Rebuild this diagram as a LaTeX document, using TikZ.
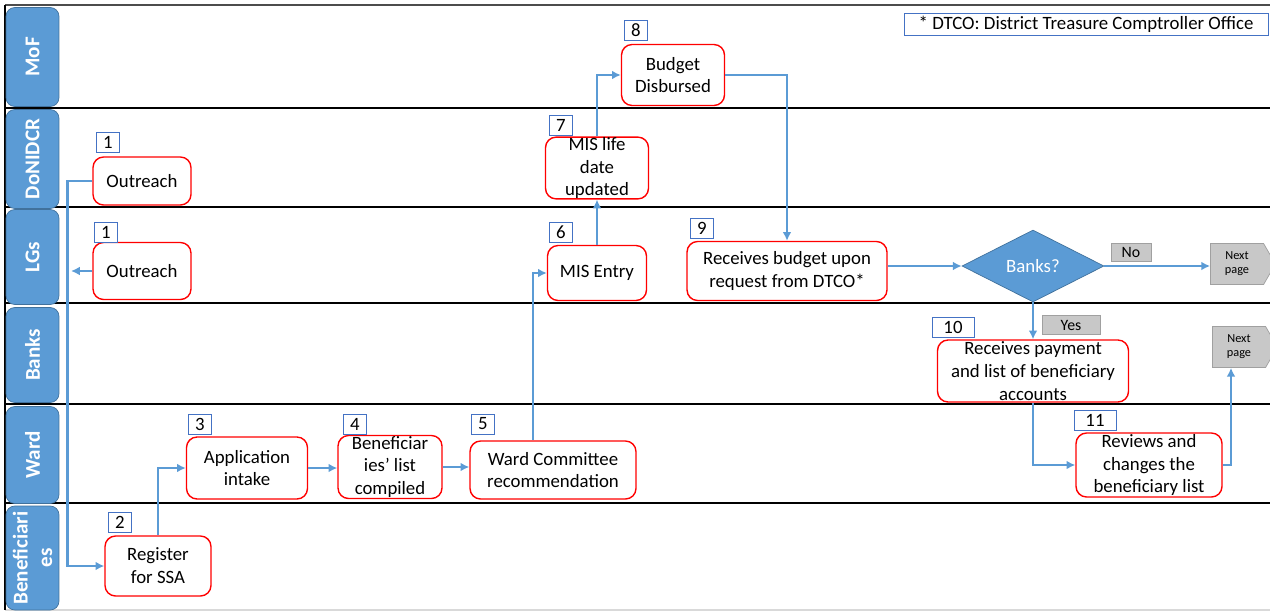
\documentclass[tikz,border=0pt]{standalone}
\usepackage{fontspec}
\setmainfont{Carlito}
\usepackage{tikz}
\usetikzlibrary{shapes.geometric, shapes.symbols, arrows.meta, positioning}
\usepackage{xcolor}
\definecolor{laneblue}{HTML}{5B9BD5}
\definecolor{laneedge}{HTML}{41719C}
\definecolor{numblue}{HTML}{4472C4}
\definecolor{tagfill}{HTML}{C8C8C8}
\definecolor{tagedge}{HTML}{A0A0A0}

\tikzset{
	lanebox/.style={draw=laneedge, fill=laneblue, rounded corners=5pt, rotate=90, minimum height=1.06cm,
		text=white, font=\large\bfseries, align=center, inner sep=0pt},
	procbox/.style={draw=red, fill=white, rounded corners=6pt, align=center, inner sep=0pt, thick},
	numbox/.style={draw=numblue, fill=white, minimum width=0.46cm, minimum height=0.4cm, inner sep=0pt},
	tagbox/.style={draw=tagedge, fill=tagfill, inner sep=0pt, font=\small},
	nextbox/.style={signal, signal to=east, signal pointer angle=120, draw=tagedge, fill=tagfill,
		minimum width=1.3cm, minimum height=0.82cm, inner sep=0pt, align=center, font=\scriptsize},
	decision/.style={diamond, draw=laneedge, fill=laneblue, text=white, minimum width=2.84cm,
		minimum height=1.44cm, inner sep=0pt},
	flow/.style={draw=laneblue, line width=1.5pt, -{Latex[length=5pt,width=5pt]}},
}

\begin{document}
\begin{tikzpicture}[x=0.02cm,y=-0.02cm,font=\fontsize{10.7}{13}\selectfont]
	\useasboundingbox (0,0) rectangle (1270,612);
	% lanes
	\draw[line width=1.2pt,black!70] (5,5) -- (1270,5);
	\draw[thick] (5,108) -- (1270,108);
	\draw[thick] (5,207) -- (1270,207);
	\draw[thick] (5,303) -- (1270,303);
	\draw[thick] (5,404) -- (1270,404);
	\draw[thick] (5,503) -- (1270,503);
	\draw[thick,black!15] (5,610) -- (1270,610);
	\draw[thick] (5,5) -- (5,610);
	\node[lanebox, minimum width=1.98cm] (mof) at (32.5,57) {MoF};
	\node[lanebox, minimum width=1.98cm] (donidcr) at (32.5,159) {DoNIDCR};
	\node[lanebox, minimum width=1.9cm] (lgs) at (32.5,257) {LGs};
	\node[lanebox, minimum width=1.9cm] (banks) at (32.5,355) {Banks};
	\node[lanebox, minimum width=1.94cm] (ward) at (32.5,455) {Ward};
	\node[lanebox, minimum width=2.08cm] (benef) at (32.5,558) {Beneficiari\\es};

	% steps
	\node[procbox, minimum width=1.96cm, minimum height=0.96cm] (outa) at (142,181) {Outreach};
	\node[procbox, minimum width=1.96cm, minimum height=1.14cm] (outb) at (142,271) {Outreach};
	\node[procbox, minimum width=2.12cm, minimum height=1.2cm] (reg) at (158,566) {Register\\for SSA};
	\node[procbox, minimum width=2.42cm, minimum height=1.24cm] (app) at (247,468) {Application\\intake};
	\node[procbox, minimum width=2.08cm, minimum height=1.26cm] (benlist) at (390,467) {Beneficiar\\ies’ list\\compiled};
	\node[procbox, minimum width=3.32cm, minimum height=1.16cm] (wcr) at (553,470) {Ward Committee\\recommendation};
	\node[procbox, minimum width=1.98cm, minimum height=1.1cm] (mis) at (597,273) {MIS Entry};
	\node[procbox, minimum width=2.06cm, minimum height=1.22cm] (life) at (597,168) {MIS life\\date\\updated};
	\node[procbox, minimum width=2.06cm, minimum height=1.22cm] (budget) at (673,75) {Budget\\Disbursed};
	\node[procbox, minimum width=4cm, minimum height=1.18cm] (recv) at (787,271) {Receives budget upon\\request from DTCO*};
	\node[decision] (bank) at (1033,266) {Banks?};
	\node[nextbox] (nexta) at (1237,264) {Next\\page};
	\node[nextbox] (nextb) at (1239,347) {Next\\page};
	\node[procbox, minimum width=3.82cm, minimum height=1.24cm] (pay) at (1033,371) {Receives payment\\and list of beneficiary\\accounts};
	\node[procbox, minimum width=2.92cm, minimum height=1.28cm] (rev) at (1149,465) {Reviews and\\changes the\\beneficiary list};

	% step numbers
	\node[numbox] (na) at (108,142) {1};
	\node[numbox] (nb) at (106,232) {1};
	\node[numbox] (nc) at (120,522) {2};
	\node[numbox] (nd) at (200,424) {3};
	\node[numbox] (ne) at (355,424) {4};
	\node[numbox] (nf) at (483,424) {5};
	\node[numbox] (ng) at (561,232) {6};
	\node[numbox] (nh) at (561,125) {7};
	\node[numbox] (ni) at (636,30) {8};
	\node[numbox] (nj) at (702,228) {9};
	\node[numbox, minimum width=0.84cm] (nk) at (953,327) {10};
	\node[numbox, minimum width=0.84cm] (nl) at (1095,420) {11};
	\node[draw=numblue, minimum width=7.28cm, minimum height=0.44cm, inner sep=0pt] (note) at (1086,24) {* DTCO: District Treasure Comptroller Office};
	\node[tagbox, minimum width=0.8cm, minimum height=0.36cm] (no) at (1131,252) {No};
	\node[tagbox, minimum width=1.16cm, minimum height=0.38cm] (yes) at (1071,325) {Yes};

	% flows
	\coordinate (lgsend) at (71,271);
	\draw[flow] (outa.west) -- ++(-25,0) |- (reg.west);
	\draw[flow] (outb.west) -- (lgsend);
	\draw[flow] (reg.north) |- (app.west);
	\draw[flow] (app.east) -- (app.east -| benlist.west);
	\draw[flow] (benlist.east) -- (benlist.east -| wcr.west);
	\draw[flow] ([xshift=-0.4cm]wcr.north) |- (mis.west);
	\draw[flow] (mis.north) -- (life.south);
	\draw[flow] (life.north) |- (budget.west);
	\draw[flow] (budget.east) -| (recv.north);
	\draw[flow] (bank.west -| recv.east) -- (bank.west);
	\draw[flow] (bank.east) -- (bank.east -| nexta.west);
	\draw[flow] (bank.south) -- (pay.north);
	\draw[flow] (pay.south) |- (rev.west);
	\draw[flow] (rev.east) -| ([xshift=-0.16cm]nextb.south);
\end{tikzpicture}
\end{document}
